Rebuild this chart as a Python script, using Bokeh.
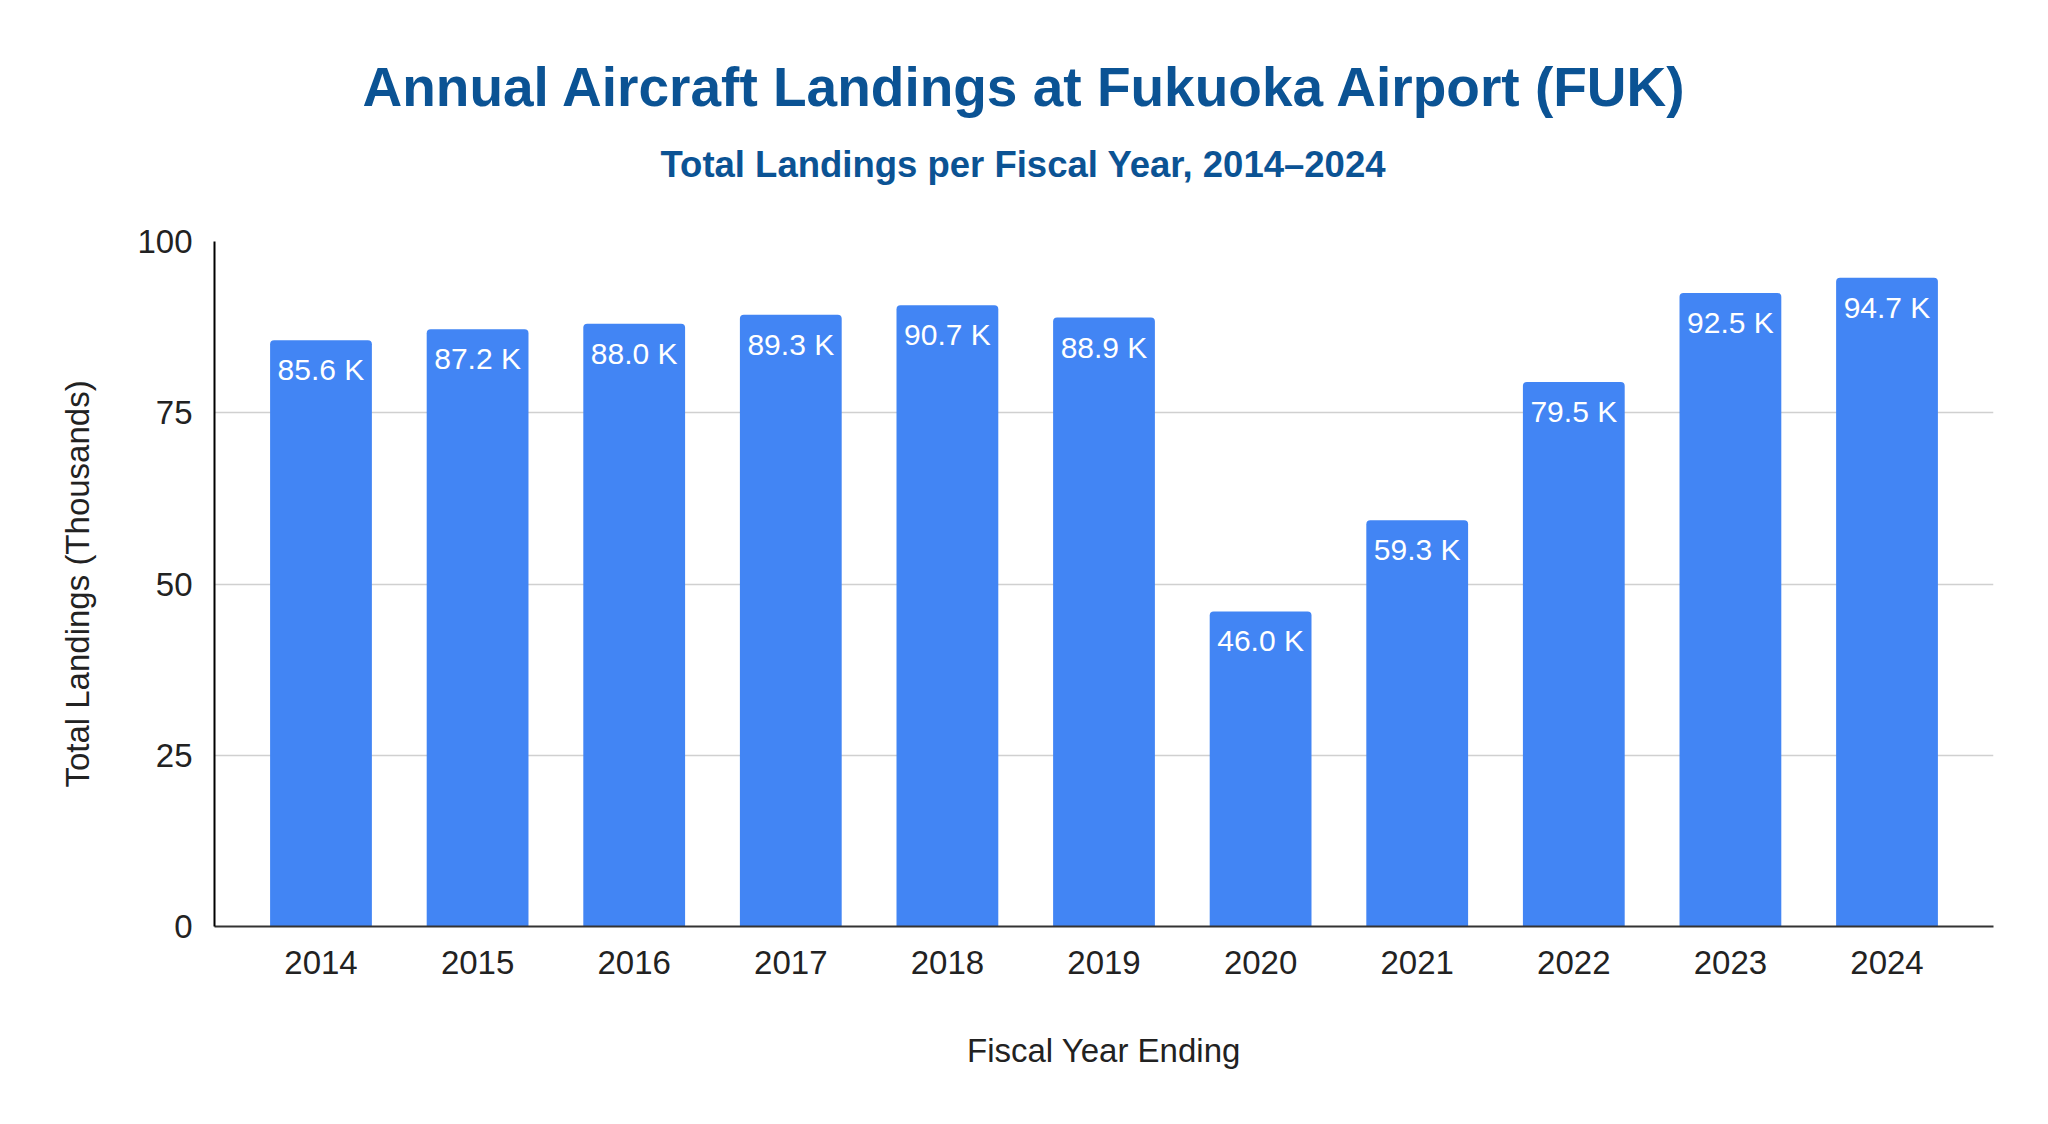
from bokeh.plotting import figure
from bokeh.models import ColumnDataSource, Range1d, FixedTicker, Title
from bokeh.core.properties import value
from bokeh.embed import file_html
from bokeh.resources import INLINE

# data
years = [2014, 2015, 2016, 2017, 2018, 2019, 2020, 2021, 2022, 2023, 2024]
landings = [85.6, 87.2, 88.0, 89.3, 90.7, 88.9, 46.0, 59.3, 79.5, 92.5, 94.7]
y_ticks = [0, 25, 50, 75, 100]

FONT = "Liberation Sans"
BLUE = "#4285f4"
TITLE_BLUE = "#0b5394"

source = ColumnDataSource(data=dict(
    year=years,
    landings=landings,
    label=[f"{v:.1f} K" for v in landings],
))

p = figure(width=2032, height=1108,
           x_range=Range1d(2013.32, 2024.68), y_range=Range1d(0, 100),
           output_backend="svg", toolbar_location=None,
           min_border_left=214, min_border_right=39,
           min_border_top=241, min_border_bottom=182)
p.outline_line_color = None

# titles (subtitle first so it sits nearest the frame)
sub = Title(text="Total Landings per Fiscal Year, 2014\u20132024", align="left", offset=446,
            text_font=FONT, text_font_size="36.5px", text_font_style="bold",
            text_color=TITLE_BLUE, standoff=113)
p.add_layout(sub, "above")
main = Title(text="Annual Aircraft Landings at Fukuoka Airport (FUK)", align="left", offset=148,
             text_font=FONT, text_font_size="55px", text_font_style="bold",
             text_color=TITLE_BLUE, standoff=-65)
p.add_layout(main, "above")

# bars
p.vbar(x="year", top="landings", width=0.65, source=source,
       fill_color=BLUE, line_color=None, border_radius=(4, 4, 0, 0))

# data labels inside the bars
p.text(x="year", y="landings", text="label", source=source,
       text_font=value(FONT), text_font_size="30px", text_color="white",
       text_align="center", text_baseline="top", y_offset=13)

# axes
p.xaxis.ticker = FixedTicker(ticks=years)
p.xaxis.axis_label = "Fiscal Year Ending"
p.yaxis.ticker = FixedTicker(ticks=y_ticks)
p.yaxis.axis_label = "Total Landings (Thousands)"

for ax in (p.xaxis, p.yaxis):
    ax.major_label_text_font = FONT
    ax.major_label_text_font_size = "33px"
    ax.major_label_text_color = "#222222"
    ax.axis_label_text_font = FONT
    ax.axis_label_text_font_size = "33px"
    ax.axis_label_text_font_style = "normal"
    ax.axis_label_text_color = "#222222"
    ax.major_tick_line_color = None
    ax.minor_tick_line_color = None
    ax.axis_line_width = 2

p.xaxis.axis_line_color = "#333333"
p.yaxis.axis_line_color = "black"
p.xaxis.major_label_standoff = 18
p.xaxis.axis_label_standoff = 55
p.yaxis.major_label_standoff = 16
p.yaxis.axis_label_standoff = 38

p.xgrid.grid_line_color = None
p.ygrid.grid_line_color = "#d0d0d0"
p.ygrid.grid_line_width = 1.5
p.ygrid.ticker = FixedTicker(ticks=y_ticks)

open("out.html", "w").write(file_html(p, INLINE))
